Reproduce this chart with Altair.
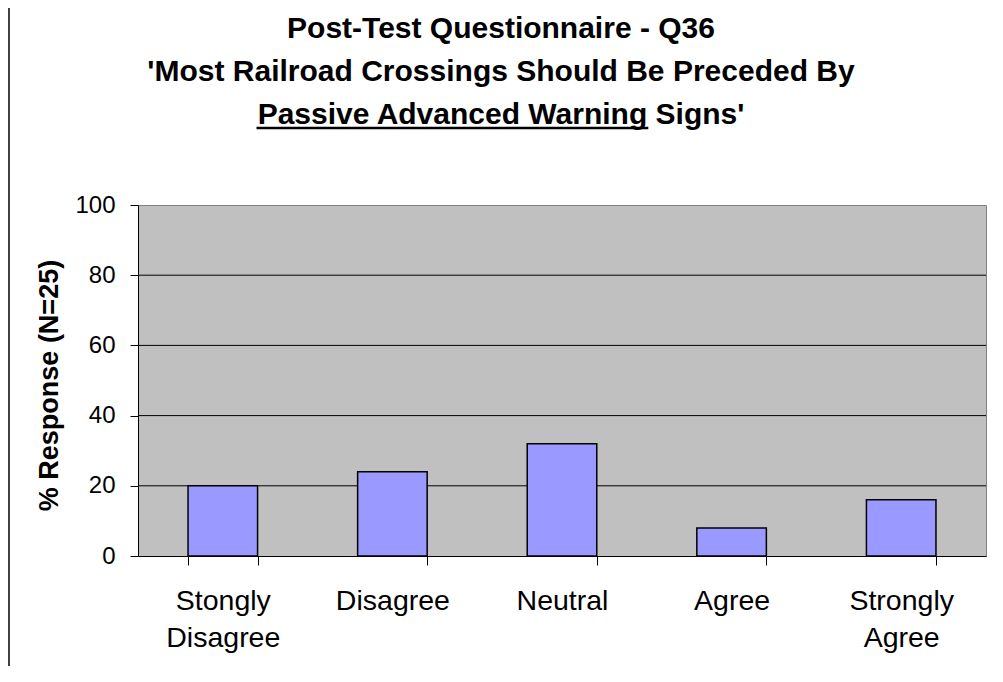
import altair as alt
import pandas as pd

# ---- data ----
categories = ["Stongly Disagree", "Disagree", "Neutral", "Agree", "Strongly Agree"]
responses = [20, 24, 32, 8, 16]
y_ticks = [0, 20, 40, 60, 80, 100]
grid_values = [20, 40, 60, 80]
title_lines = [
    "Post-Test Questionnaire - Q36",
    "'Most Railroad Crossings Should Be Preceded By",
    "Passive Advanced Warning Signs'",
]
y_title = "% Response (N=25)"

# ---- layout ----
W, H = 848, 351
FONT = "Arial, Liberation Sans, Helvetica, sans-serif"
TITLE_FS = 30
TITLE_CX = 363
title_baselines = [-167, -124, -81]

df = pd.DataFrame({"cat": categories, "pct": responses})
grid_df = pd.DataFrame({"pct": grid_values})

y_scale = alt.Scale(domain=[0, 100], nice=False)
y_enc = alt.Y(
    "pct:Q",
    scale=y_scale,
    axis=alt.Axis(
        values=y_ticks, grid=False, title=y_title,
        titleFont=FONT, titleFontSize=27, titleFontWeight="bold", titleColor="black",
        titleAngle=270, titleX=-81, titleY=180, titleAlign="center",
        titleBaseline="alphabetic",
        labelFont=FONT, labelFontSize=24, labelColor="black", labelPadding=15,
        tickSize=8, tickColor="black", domainColor="black",
    ),
)

x_enc = alt.X(
    "cat:N", sort=categories,
    scale=alt.Scale(paddingInner=0.59, paddingOuter=0.295),
    axis=alt.Axis(
        title=None, labelAngle=0, labelExpr="split(datum.label, ' ')",
        labelFont=FONT, labelFontSize=28.5, labelColor="black",
        labelPadding=21.5, labelLineHeight=37, labelBaseline="top", labelLimit=0,
        tickBand="extent", tickSize=9, tickColor="black", domainColor="black",
    ),
)

grid = alt.Chart(grid_df).mark_rule(color="black", strokeWidth=1).encode(y=y_enc)

bars = alt.Chart(df).mark_bar(
    color="#9999FF", stroke="black", strokeWidth=1.5, opacity=1
).encode(x=x_enc, y=y_enc)

one = alt.Data(values=[{}])
titles = [
    alt.Chart(one).mark_text(
        text=line, font=FONT, fontSize=TITLE_FS, fontWeight="bold",
        align="center", baseline="alphabetic", color="black",
    ).encode(x=alt.value(TITLE_CX), y=alt.value(yb))
    for line, yb in zip(title_lines, title_baselines)
]

# underline beneath "Passive Advanced Warning" (Arial bold metrics)
line3_w = 16.299 * TITLE_FS
under_w = 13.06 * TITLE_FS
u0 = TITLE_CX - line3_w / 2
underline = alt.Chart(one).mark_rule(color="black", strokeWidth=2.3).encode(
    x=alt.value(u0), x2=alt.value(u0 + under_w), y=alt.value(-77)
)

border = alt.Chart(one).mark_rule(color="black", strokeWidth=1.5).encode(
    x=alt.value(-129), y=alt.value(-197), y2=alt.value(470)
)

chart = alt.layer(grid, bars, *titles, underline, border).properties(
    width=W, height=H,
    padding={"left": 130, "top": 197, "right": 9, "bottom": 110},
    autosize="none",
    background="white",
).configure_view(
    fill="#C0C0C0", stroke="#808080", strokeWidth=1
)

chart.save("out.html", embed_options={"renderer": "svg", "actions": False})
